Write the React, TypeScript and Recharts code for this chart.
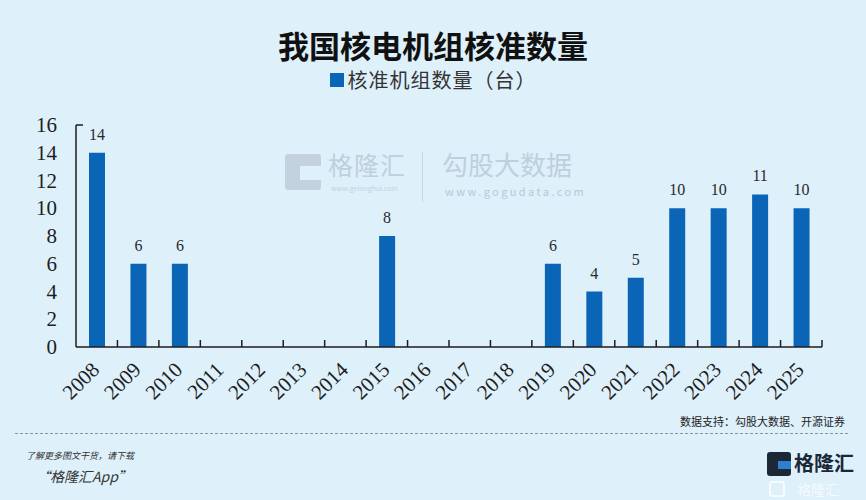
import React from 'react'
import { BarChart, Bar, XAxis, YAxis, LabelList } from 'recharts'

// 核准机组数量（台）
const years = ['2008', '2009', '2010', '2011', '2012', '2013', '2014', '2015', '2016', '2017', '2018', '2019', '2020', '2021', '2022', '2023', '2024', '2025']
const approvals = [14, 6, 6, 0, 0, 0, 0, 8, 0, 0, 0, 6, 4, 5, 10, 10, 11, 10]
const yTicks = [0, 2, 4, 6, 8, 10, 12, 14, 16]

const data = years.map((year, i) => ({ year, count: approvals[i] }))

const W = 866
const H = 500
const PLOT_LEFT = 76
const PLOT_RIGHT = 822
const PLOT_TOP = 125
const PLOT_BOTTOM = 347
const BAND = (PLOT_RIGHT - PLOT_LEFT) / years.length

const BG = '#def0fa'
const BLUE = '#0b65b6'
const INK = '#1e1e1e'
const SERIF = '"Liberation Serif", "DejaVu Serif", serif'
const CJK = '"Noto Sans CJK SC", "Noto Sans", sans-serif'

const XTick = (props: any) => {
  const { x, payload } = props
  const tx = x + 4
  const ty = PLOT_BOTTOM + 24
  return (
    <g>
      <line x1={x + BAND / 2} x2={x + BAND / 2} y1={PLOT_BOTTOM} y2={PLOT_BOTTOM - 7} stroke={INK} strokeWidth={1.5} />
      <text x={tx} y={ty} transform={`rotate(-45 ${tx} ${ty})`} textAnchor="end" fontFamily={SERIF} fontSize={21} fill={INK}>
        {payload.value}
      </text>
    </g>
  )
}

const YTick = (props: any) => {
  const { y, payload } = props
  return (
    <g>
      {payload.value === 16 && (
        <line x1={PLOT_LEFT} x2={PLOT_LEFT + 7} y1={y} y2={y} stroke={INK} strokeWidth={1.5} />
      )}
      <text x={57} y={y} dy={7} textAnchor="end" fontFamily={SERIF} fontSize={21} fill={INK}>
        {payload.value}
      </text>
    </g>
  )
}

export default function App() {
  return (
    <div style={{ position: 'fixed', left: 0, top: 0, width: W, height: H, background: BG, overflow: 'hidden' }}>
      {/* watermark */}
      <div style={{ position: 'absolute', left: 285, top: 154, width: 36, height: 36, background: '#c3d2de', borderRadius: 3 }} />
      <div style={{ position: 'absolute', left: 300, top: 166, width: 21, height: 14, background: BG }} />
      <div style={{ position: 'absolute', left: 328, top: 152, fontFamily: CJK, fontSize: 25, lineHeight: 1, color: '#bfcfdc', letterSpacing: 1 }}>格隆汇</div>
      <div style={{ position: 'absolute', left: 331, top: 185, fontFamily: CJK, fontSize: 7, lineHeight: 1, color: '#c3d2de' }}>www.gelonghui.com</div>
      <div style={{ position: 'absolute', left: 422, top: 152, width: 1, height: 50, background: '#c9d7e2' }} />
      <div style={{ position: 'absolute', left: 442, top: 151, fontFamily: CJK, fontSize: 26, lineHeight: 1, color: '#bfcfdc' }}>勾股大数据</div>
      <div style={{ position: 'absolute', left: 445, top: 186, fontFamily: CJK, fontSize: 11, lineHeight: 1, color: '#b8c8d6', letterSpacing: 2.4 }}>www.gogudata.com</div>

      {/* title and legend */}
      <div style={{ position: 'absolute', left: 0, top: 29, width: W, textAlign: 'center', fontFamily: CJK, fontWeight: 700, fontSize: 31, lineHeight: 1, color: '#111' }}>
        我国核电机组核准数量
      </div>
      <div style={{ position: 'absolute', left: 0, top: 68, width: W, height: 24, display: 'flex', justifyContent: 'center', alignItems: 'center' }}>
        <div style={{ width: 14, height: 14, background: BLUE, marginRight: 4 }} />
        <span style={{ fontFamily: CJK, fontSize: 20, lineHeight: 1, color: '#333', letterSpacing: 1 }}>核准机组数量（台）</span>
      </div>

      <div style={{ position: 'absolute', left: 0, top: 0 }}>
        <BarChart width={W} height={H} data={data} margin={{ top: PLOT_TOP, right: W - PLOT_RIGHT, bottom: H - PLOT_BOTTOM - 70, left: PLOT_LEFT - 60 }}>
          <XAxis dataKey="year" interval={0} height={70} tickLine={false} axisLine={{ stroke: INK, strokeWidth: 1.5 }} tick={<XTick />} />
          <YAxis width={60} domain={[0, 16]} ticks={yTicks} tickLine={false} axisLine={{ stroke: INK, strokeWidth: 1.5 }} tick={<YTick />} />
          <Bar dataKey="count" fill={BLUE} barSize={16} isAnimationActive={false}>
            <LabelList
              dataKey="count"
              position="top"
              offset={13}
              formatter={(v: any) => (v ? v : '')}
              fontFamily={SERIF}
              fontSize={16}
              fill="#2a2a2a"
            />
          </Bar>
        </BarChart>
      </div>

      {/* footer */}
      <div style={{ position: 'absolute', right: 21, top: 416, fontFamily: CJK, fontSize: 11, lineHeight: 1, color: '#222' }}>
        数据支持：勾股大数据、开源证券
      </div>
      <div style={{ position: 'absolute', left: 15, top: 433, width: 833, borderTop: '1px dashed #8a949c' }} />
      <div style={{ position: 'absolute', left: 26, top: 451, fontFamily: CJK, fontSize: 9, lineHeight: 1, fontStyle: 'italic', color: '#333' }}>
        了解更多图文干货，请下载
      </div>
      <div style={{ position: 'absolute', left: 36, top: 469, fontFamily: CJK, fontSize: 14, lineHeight: 1, fontStyle: 'italic', color: '#333' }}>
        “格隆汇App”
      </div>

      {/* logo */}
      <div style={{ position: 'absolute', left: 767, top: 452, width: 24, height: 24, background: '#1b2836', borderRadius: 3 }} />
      <div style={{ position: 'absolute', left: 778, top: 461, width: 13, height: 8, background: '#2f7fd0' }} />
      <div style={{ position: 'absolute', left: 794, top: 453, fontFamily: CJK, fontWeight: 700, fontSize: 20, lineHeight: 1, color: '#1b2836' }}>格隆汇</div>
      <div style={{ position: 'absolute', left: 797, top: 482, fontFamily: CJK, fontSize: 14, lineHeight: 1, color: 'rgba(255,255,255,0.7)' }}>格隆汇</div>
      <div style={{ position: 'absolute', left: 769, top: 481, width: 16, height: 16, border: '2px solid rgba(255,255,255,0.7)', borderRadius: 3, boxSizing: 'border-box' }} />
    </div>
  )
}
